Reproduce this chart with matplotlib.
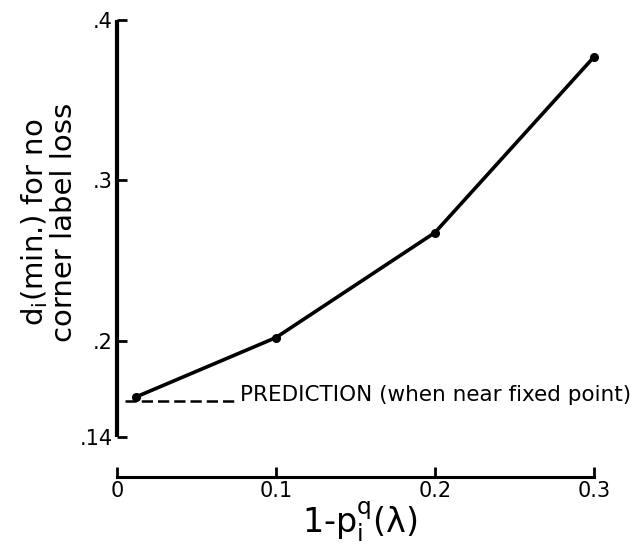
import matplotlib
matplotlib.use("Agg")
import matplotlib.pyplot as plt

# ---- data ----
x_vals = [0.012, 0.1, 0.2, 0.3]
y_vals = [0.165, 0.202, 0.2675, 0.377]
pred_x = [0.005, 0.0755]
pred_y = [0.1625, 0.1625]
x_ticks = [0.0, 0.1, 0.2, 0.3]
x_ticklabels = ["0", "0.1", "0.2", "0.3"]
y_ticks = [0.14, 0.2, 0.3, 0.4]
y_ticklabels = [".14", ".2", ".3", ".4"]
pred_label = "PREDICTION (when near fixed point)"
ylabel_lines = r"d$\mathregular{_i}$(min.) for no" + "\n" + "corner label loss"
xlabel = r"1-p$\mathregular{_i^q}$(λ)"

plt.rcParams['font.family'] = ['DejaVu Sans']

fig = plt.figure(figsize=(6.34, 5.47), dpi=100)
ax = fig.add_axes([117/634, 1-437/547, (594-117)/634, (437-20)/547])

ax.plot(x_vals, y_vals, color='black', lw=2.6, marker='o', ms=5.5,
        solid_capstyle='round', clip_on=False, zorder=3)
ax.plot(pred_x, pred_y, color='black', lw=1.8, dashes=(4.5, 2.0), clip_on=False)
ax.text(0.0775, 0.1625, pred_label, fontsize=15.5, va='baseline', ha='left',
        clip_on=False)

ax.set_xlim(0, 0.3)
ax.set_ylim(0.14, 0.4)
for s in ['top', 'right']:
    ax.spines[s].set_visible(False)
ax.spines['left'].set_linewidth(3.0)
ax.spines['bottom'].set_linewidth(2.2)
ax.spines['bottom'].set_position(('outward', 29))
ax.spines['left'].set_capstyle('butt')

ax.set_xticks(x_ticks)
ax.set_xticklabels(x_ticklabels, fontsize=15)
ax.set_yticks(y_ticks)
ax.set_yticklabels(y_ticklabels, fontsize=15)
ax.tick_params(direction='in', length=7, width=2, pad=3)

fig.text(49/634, 1-222/547, ylabel_lines, rotation=90, ha='center', va='center',
         fontsize=21, multialignment='center', linespacing=1.0)
fig.text(360/634, 1-522/547, xlabel, ha='center', va='center', fontsize=24)

fig.savefig("out.png", dpi=100)
